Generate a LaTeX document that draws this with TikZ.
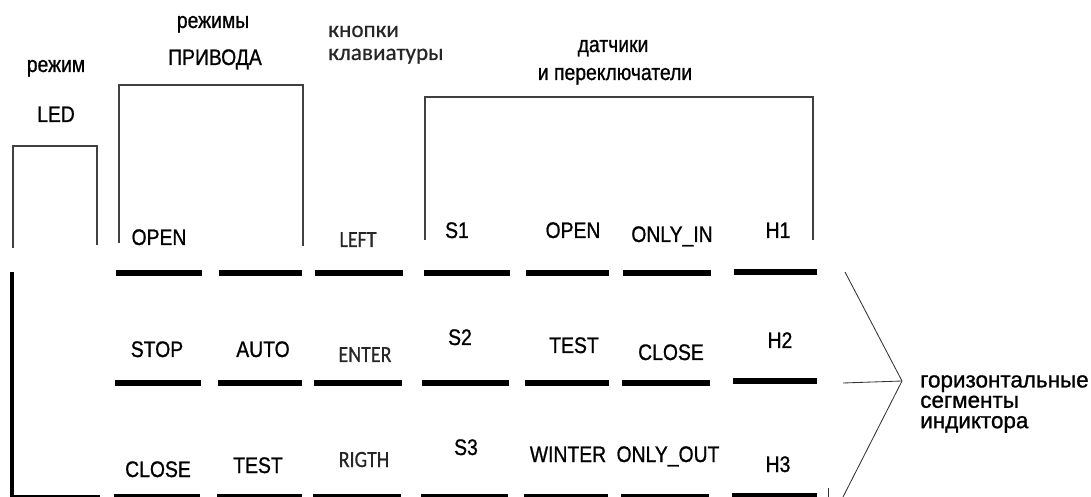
\documentclass[tikz,border=0pt]{standalone}
\usepackage{fontspec}
\setmainfont{Liberation Sans}[FakeBold=1]
\newfontfamily\keyfont{Carlito}[FakeBold=0.6]
\usetikzlibrary{positioning}

\begin{document}
\begin{tikzpicture}[
    x=0.025cm, y=-0.025cm,
    lbl/.style={font=\fontsize{16}{19}\selectfont, xscale=0.86, anchor=base, inner sep=0pt},
    keylbl/.style={lbl, font=\keyfont\fontsize{16.5}{19}\selectfont, text=black!85},
    seg/.style={line width=3.6pt},
    bracket/.style={draw=black!75, line width=0.8pt},
    thin/.style={draw=black!80, line width=0.6pt},
]
\useasboundingbox (0,0) rectangle (1091,497);

% Headers
\node[lbl] (ledhead) at (56,72) {режим};
\node[lbl] (ledname) at (56,122) {LED};
\node[lbl] (drvhead) at (213,28) {режимы};
\node[lbl] (drvname) at (215,65) {ПРИВОДА};
\node[keylbl, xscale=1.16, anchor=base west] (keyhead) at (328,37) {кнопки};
\node[keylbl, xscale=1.16, anchor=base west] (keyname) at (328,60) {клавиатуры};
\node[lbl] (senhead) at (613,52) {датчики};
\node[lbl] (senname) at (615,80) {и переключатели};

% Brackets
\draw[bracket] (13,248) -- (13,146) -- (97,146) -- (97,245);
\draw[bracket] (119,243) -- (119,85) -- (303,85) -- (303,246);
\draw[bracket] (425,240) -- (425,97) -- (813,97) -- (813,240);

% Row 1
\node[lbl] (open) at (159,245) {OPEN};
\node[keylbl] (left) at (358,247) {LEFT};
\node[lbl] (sone) at (457,238) {S1};
\node[lbl] (opensw) at (573,238) {OPEN};
\node[lbl] (onlyin) at (672,242) {ONLY\_IN};
\node[lbl] (hone) at (778,238) {H1};

% Row 2
\node[lbl] (stop) at (157,357) {STOP};
\node[lbl] (auto) at (263,357) {AUTO};
\node[keylbl] (enter) at (365,362) {ENTER};
\node[lbl] (stwo) at (460,345) {S2};
\node[lbl] (testsw) at (574,353) {TEST};
\node[lbl] (closesw) at (671,360) {CLOSE};
\node[lbl] (htwo) at (780,348) {H2};

% Row 3
\node[lbl] (close) at (158,477) {CLOSE};
\node[lbl] (test) at (258,473) {TEST};
\node[keylbl] (right) at (364,467) {RIGTH};
\node[lbl] (sthree) at (466,455) {S3};
\node[lbl] (winter) at (568,462) {WINTER};
\node[lbl] (onlyout) at (668,462) {ONLY\_OUT};
\node[lbl] (hthree) at (778,472) {H3};

% Segments
\draw[seg] (116,273) -- (202,273) (219,273) -- (302,273) (315,273) -- (403,273) (424,273) -- (510,273)
           (526,273) -- (609,273) (623,273) -- (711,273) (734,272) -- (817,272);
\draw[seg] (115,383) -- (201,383) (218,383) -- (302,383) (314,383) -- (402,383) (422,383) -- (509,383)
           (525,383) -- (609,383) (622,383) -- (710,383) (733,381) -- (817,381);
\draw[seg] (114,497) -- (200,497) (217,497) -- (302,497) (313,497) -- (401,497) (421,497) -- (508,497)
           (524,497) -- (608,497) (621,497) -- (709,497) (732,496) -- (817,496);

% LED frame
\draw[line width=2.8pt] (12,272) -- (12,497);
\draw[line width=1.4pt] (12,496) -- (100,496);

% Brace to the label
\node[lbl, xscale=1.16, anchor=north west, align=left, font=\fontsize{16}{14.5}\selectfont] (seglbl) at (920,375)
    {горизонтальные\\сегменты\\индиктора};
\coordinate (tip) at (902,381);
\draw[thin] (845,272) -- (tip) -- (843,497);
\draw[thin] (843,383) -- (tip);
\draw[thin] (828,488) -- (828,497);

\end{tikzpicture}
\end{document}
